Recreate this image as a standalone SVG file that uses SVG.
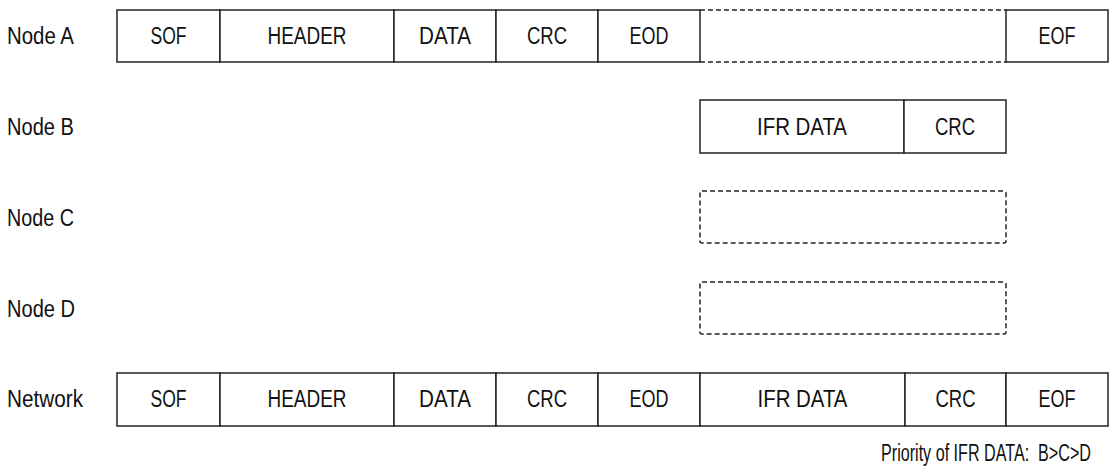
<svg xmlns="http://www.w3.org/2000/svg" width="1110" height="468" viewBox="0 0 1110 468">
<style>
.box{fill:#fff;stroke:#222;stroke-width:1.5}
.dash{fill:none;stroke:#222;stroke-width:1.5;stroke-dasharray:5 3}
.t{font-family:"Liberation Sans",Arial,sans-serif;font-size:23px;fill:#111}
.c{text-anchor:middle}
</style>
<rect width="1110" height="468" fill="#fff"/>
<g id="nodeA">
<text class="t" x="7" y="44" textLength="67" lengthAdjust="spacingAndGlyphs">Node A</text>
<rect class="box" x="117" y="10" width="103" height="52"/>
<rect class="box" x="220" y="10" width="174" height="52"/>
<rect class="box" x="394" y="10" width="102" height="52"/>
<rect class="box" x="496" y="10" width="102" height="52"/>
<rect class="box" x="598" y="10" width="102" height="52"/>
<path class="dash" d="M700 10H1006M700 62H1006"/>
<rect class="box" x="1006" y="10" width="102" height="52"/>
<text class="t c" x="168.5" y="44" textLength="36" lengthAdjust="spacingAndGlyphs">SOF</text>
<text class="t c" x="307" y="44" textLength="79" lengthAdjust="spacingAndGlyphs">HEADER</text>
<text class="t c" x="445" y="44" textLength="52" lengthAdjust="spacingAndGlyphs">DATA</text>
<text class="t c" x="547" y="44" textLength="40" lengthAdjust="spacingAndGlyphs">CRC</text>
<text class="t c" x="649" y="44" textLength="39" lengthAdjust="spacingAndGlyphs">EOD</text>
<text class="t c" x="1057" y="44" textLength="37" lengthAdjust="spacingAndGlyphs">EOF</text>
</g>
<g id="nodeB">
<text class="t" x="7" y="135" textLength="67" lengthAdjust="spacingAndGlyphs">Node B</text>
<rect class="box" x="700" y="100" width="204" height="53"/>
<rect class="box" x="904" y="100" width="102" height="53"/>
<text class="t c" x="802" y="135" textLength="90" lengthAdjust="spacingAndGlyphs">IFR DATA</text>
<text class="t c" x="955" y="135" textLength="40" lengthAdjust="spacingAndGlyphs">CRC</text>
</g>
<g id="nodeC">
<text class="t" x="7" y="226" textLength="67" lengthAdjust="spacingAndGlyphs">Node C</text>
<rect class="dash" x="700" y="191" width="306" height="52" rx="2"/>
</g>
<g id="nodeD">
<text class="t" x="7" y="317" textLength="68" lengthAdjust="spacingAndGlyphs">Node D</text>
<rect class="dash" x="700" y="282" width="306" height="52" rx="2"/>
</g>
<g id="network">
<text class="t" x="7" y="407" textLength="76" lengthAdjust="spacingAndGlyphs">Network</text>
<rect class="box" x="117" y="373" width="103" height="53"/>
<rect class="box" x="220" y="373" width="174" height="53"/>
<rect class="box" x="394" y="373" width="102" height="53"/>
<rect class="box" x="496" y="373" width="102" height="53"/>
<rect class="box" x="598" y="373" width="102" height="53"/>
<rect class="box" x="700" y="373" width="205" height="53"/>
<rect class="box" x="905" y="373" width="101" height="53"/>
<rect class="box" x="1006" y="373" width="102" height="53"/>
<text class="t c" x="168.5" y="407" textLength="36" lengthAdjust="spacingAndGlyphs">SOF</text>
<text class="t c" x="307" y="407" textLength="79" lengthAdjust="spacingAndGlyphs">HEADER</text>
<text class="t c" x="445" y="407" textLength="52" lengthAdjust="spacingAndGlyphs">DATA</text>
<text class="t c" x="547" y="407" textLength="40" lengthAdjust="spacingAndGlyphs">CRC</text>
<text class="t c" x="649" y="407" textLength="39" lengthAdjust="spacingAndGlyphs">EOD</text>
<text class="t c" x="802.5" y="407" textLength="90" lengthAdjust="spacingAndGlyphs">IFR DATA</text>
<text class="t c" x="955.5" y="407" textLength="40" lengthAdjust="spacingAndGlyphs">CRC</text>
<text class="t c" x="1057" y="407" textLength="37" lengthAdjust="spacingAndGlyphs">EOF</text>
</g>
<g id="connectors"></g>
<text class="t" text-anchor="end" x="1091" y="461" xml:space="preserve" textLength="210" lengthAdjust="spacingAndGlyphs">Priority of IFR DATA:  B&gt;C&gt;D</text>
</svg>
